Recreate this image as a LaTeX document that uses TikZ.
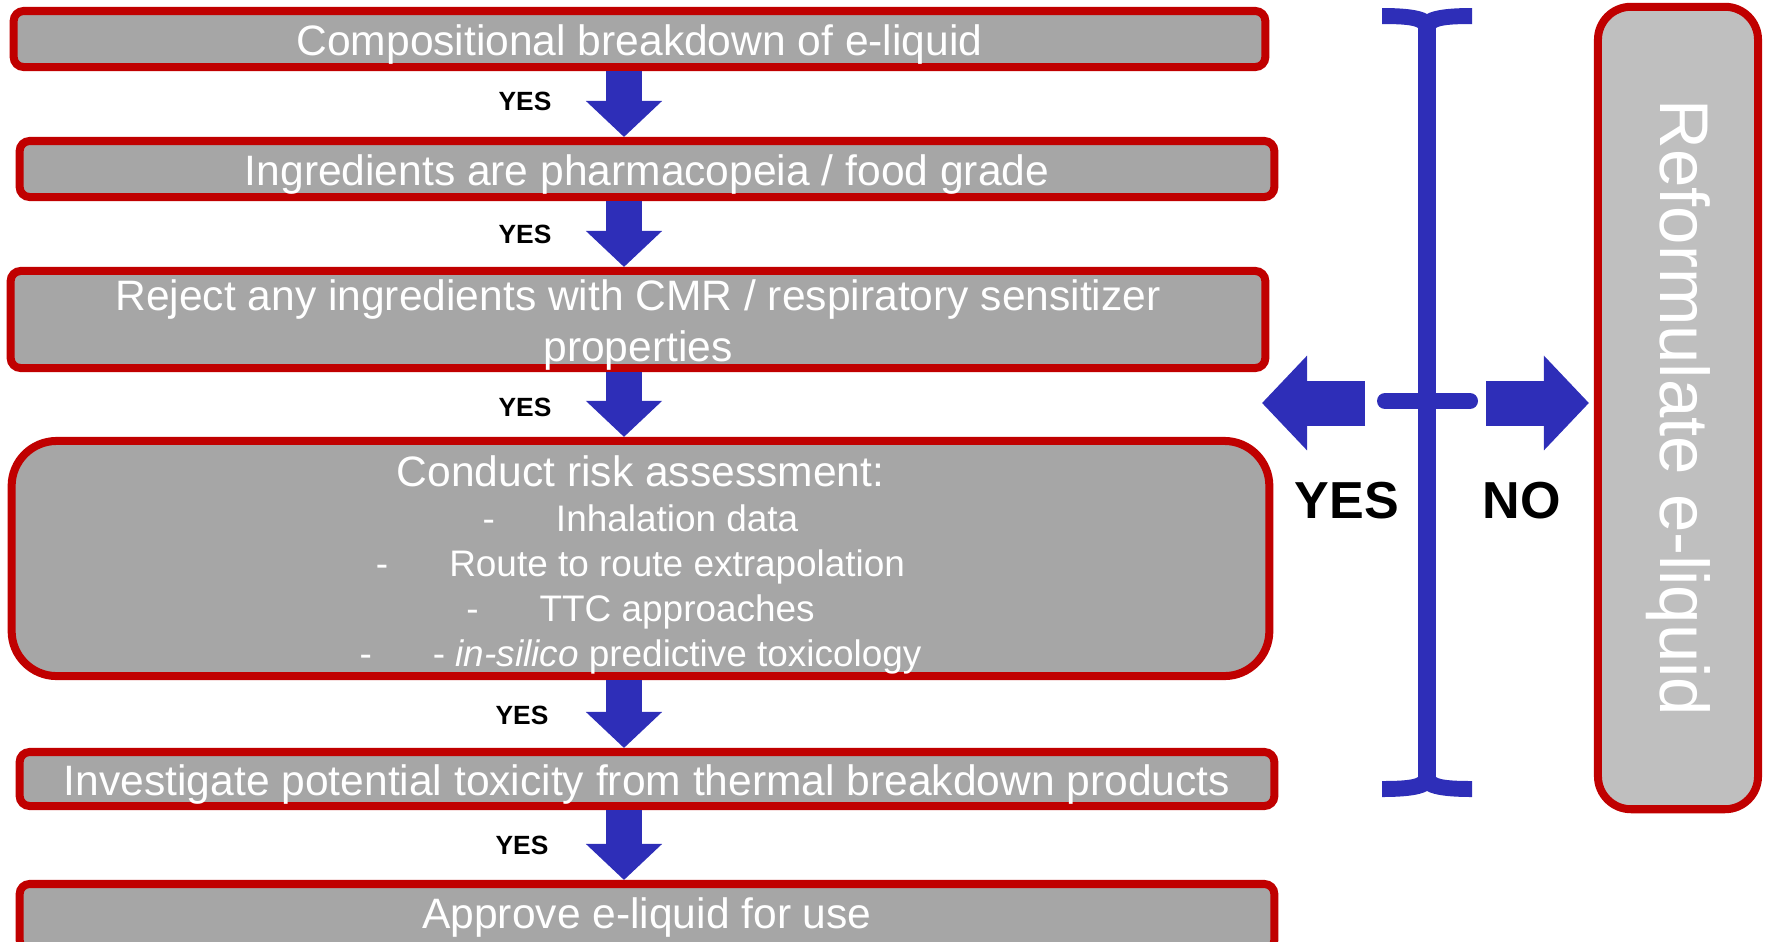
\documentclass[tikz,border=0pt]{standalone}
\usepackage{fontspec}
\setmainfont{Liberation Sans}
\usepackage{tikz}
\usetikzlibrary{arrows.meta}
\definecolor{boxred}{RGB}{192,0,0}
\definecolor{boxgray}{RGB}{166,166,166}
\definecolor{sidegray}{RGB}{191,191,191}
\definecolor{flowblue}{RGB}{46,46,184}

\begin{document}
\begin{tikzpicture}[x=0.01cm, y=-0.01cm,
    stepbox/.style={draw=boxred, line width=0.08cm, fill=boxgray, rounded corners=0.1cm,
        inner sep=0pt, text=white, align=center, font=\fontsize{12.1}{14.5}\selectfont,
        text height=0.36cm, text depth=0.04cm},
    yeslabel/.style={font=\bfseries\fontsize{7.5}{9}\selectfont},
    biglabel/.style={font=\bfseries\fontsize{14.8}{17}\selectfont},
    flowarrow/.style={flowblue, line width=0.36cm, line cap=butt,
        -{Triangle[length=0.36cm, width=0.74cm]}},
    sidearrow/.style={flowblue, line width=0.45cm, line cap=butt,
        -{Triangle[length=0.45cm, width=0.92cm]}}
]

    \useasboundingbox (0,0) rectangle (1765,941);
    \clip (0,0) rectangle (1765,941);

    % Steps
    \node[stepbox, minimum width=12.51cm, minimum height=0.56cm] (comp) at (639.5,39)
        {Compositional breakdown of e-liquid};
    \node[stepbox, minimum width=12.54cm, minimum height=0.56cm] (grade) at (647,169)
        {Ingredients are pharmacopeia / food grade};
    \node[stepbox, minimum width=12.54cm, minimum height=0.97cm, text height=0.87cm] (reject) at (638,319.5)
        {Reject any ingredients with CMR / respiratory sensitizer\\properties};
    \node[stepbox, rounded corners=0.45cm, minimum width=12.57cm, minimum height=2.35cm,
          font=\fontsize{10.5}{12.8}\selectfont, text height=2.23cm, text depth=0.08cm] (risk) at (640.5,558.5)
        {\fontsize{12.1}{14.5}\selectfont Conduct risk assessment:\\[0pt]
          -\hspace{0.61cm}Inhalation data\\
          -\hspace{0.61cm}Route to route extrapolation\\
          -\hspace{0.61cm}TTC approaches\\
          -\hspace{0.61cm}- \textit{in-silico} predictive toxicology};
    \node[stepbox, minimum width=12.54cm, minimum height=0.54cm] (thermal) at (647,779)
        {Investigate potential toxicity from thermal breakdown products};
    \node[stepbox, minimum width=12.54cm, minimum height=0.66cm, text height=0.27cm] (approve) at (647,917)
        {Approve e-liquid for use};

    % Reformulate
    \node[stepbox, fill=sidegray, rounded corners=0.33cm, minimum width=1.6cm, minimum height=8.02cm] (reform) at (1678,408) {};
    \node[text=white, rotate=-90, font=\fontsize{19.6}{22}\selectfont] (reformtext) at (reform.center) {Reformulate e-liquid};

    % Flow arrows
    \coordinate (ax) at (624,0);
    \draw[flowarrow] (comp.south -| ax) -- (grade.north -| ax);
    \draw[flowarrow] (grade.south -| ax) -- (reject.north -| ax);
    \draw[flowarrow] (reject.south -| ax) -- (risk.north -| ax);
    \draw[flowarrow] (risk.south -| ax) -- (thermal.north -| ax);
    \draw[flowarrow] (thermal.south -| ax) -- (approve.north -| ax);

    \node[yeslabel] (yes1) at (525,101) {YES};
    \node[yeslabel] (yes2) at (525,234) {YES};
    \node[yeslabel] (yes3) at (525,407) {YES};
    \node[yeslabel] (yes4) at (522,715) {YES};
    \node[yeslabel] (yes5) at (522,845) {YES};

    % Bracket
    \fill[flowblue] (1382,8) .. controls (1405,8) and (1420,10) .. (1427,14)
        .. controls (1434,10) and (1449,8) .. (1472,8) -- (1472,24)
        .. controls (1452,24) and (1440,25) .. (1436,28) -- (1418,28)
        .. controls (1414,25) and (1402,24) .. (1382,24) -- cycle;
    \fill[flowblue] (1382,797) .. controls (1405,797) and (1420,795) .. (1427,791)
        .. controls (1434,795) and (1449,797) .. (1472,797) -- (1472,781)
        .. controls (1452,781) and (1440,780) .. (1436,777) -- (1418,777)
        .. controls (1414,780) and (1402,781) .. (1382,781) -- cycle;
    \draw[flowblue, line width=0.18cm] (1427,24) -- (1427,781);
    \draw[flowblue, line width=0.16cm, line cap=round] (1385,401) -- (1470,401);

    % Side arrows
    \coordinate (bracketL) at (1365,403);
    \coordinate (yestip) at (1262,403);
    \coordinate (bracketR) at (1486,403);
    \draw[sidearrow] (bracketL) -- (yestip);
    \draw[sidearrow, shorten >=0.05cm] (bracketR) -- (bracketR -| reform.west);

    \node[biglabel] (yesbig) at (1347,501) {YES};
    \node[biglabel] (nobig) at (1522,501) {NO};

\end{tikzpicture}
\end{document}
